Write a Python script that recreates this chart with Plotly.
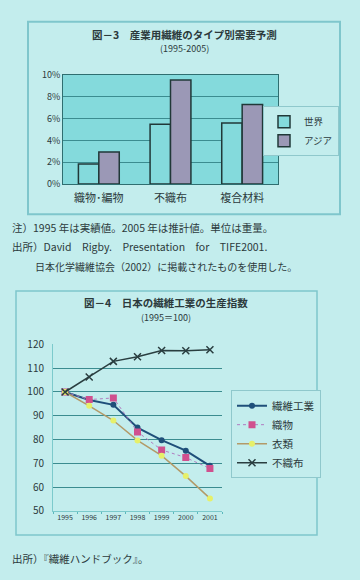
import plotly.graph_objects as go

W, H = 360, 580
def px(x): return x / W
def py(y): return 1 - y / H

# ---- Data: Fig.3 ----
fig3_categories = ["織物･編物", "不織布", "複合材料"]
fig3_world = [1.85, 5.5, 5.6]
fig3_asia = [2.95, 9.55, 7.3]
fig3_yticks = [0, 2, 4, 6, 8, 10]
fig3_ytick_text = ["0%", "2%", "4%", "6%", "8%", "10%"]

# ---- Data: Fig.4 ----
fig4_years = ["1995", "1996", "1997", "1998", "1999", "2000", "2001"]
fig4_textile_industry = [100, 96.6, 94.6, 85.0, 79.7, 75.3, 68.9]
fig4_fabric = [100, 96.8, 97.5, 83.2, 75.6, 72.4, 67.8]
fig4_apparel = [100, 94.2, 88.0, 79.6, 73.2, 64.6, 55.2]
fig4_nonwoven = [100, 106.3, 112.9, 114.8, 117.5, 117.4, 117.8]
fig4_ytick_labels = [50, 60, 70, 80, 90, 100, 110, 120]
fig4_grid_values = [60, 70, 80, 90, 100, 110]

BG = "#c3eded"
PLOT1 = "#84dadc"
TXT = "#2c3a3c"
GRID = "#3b8c90"
FONT = "Noto Sans CJK JP"

fig = go.Figure()

fig.add_trace(go.Bar(x=fig3_categories, y=fig3_world, name="世界",
                     marker=dict(color=PLOT1, line=dict(color="#203838", width=1.5)),
                     xaxis="x", yaxis="y", legend="legend"))
fig.add_trace(go.Bar(x=fig3_categories, y=fig3_asia, name="アジア",
                     marker=dict(color="#9b98b6", line=dict(color="#203838", width=1.5)),
                     xaxis="x", yaxis="y", legend="legend"))

fig.add_trace(go.Scatter(x=fig4_years, y=fig4_textile_industry, name="繊維工業",
                         mode="lines+markers",
                         line=dict(color="#1f4f7a", width=2),
                         marker=dict(symbol="circle", size=6, color="#1f4f7a"),
                         xaxis="x2", yaxis="y2", legend="legend2"))
fig.add_trace(go.Scatter(x=fig4_years, y=fig4_fabric, name="織物",
                         mode="lines+markers",
                         line=dict(color="#b07cc0", width=1, dash="dot"),
                         marker=dict(symbol="square", size=7, color="#d0508e"),
                         xaxis="x2", yaxis="y2", legend="legend2"))
fig.add_trace(go.Scatter(x=fig4_years, y=fig4_apparel, name="衣類",
                         mode="lines+markers",
                         line=dict(color="#b39a68", width=1.5),
                         marker=dict(symbol="circle", size=6, color="#e6f06a"),
                         xaxis="x2", yaxis="y2", legend="legend2"))
fig.add_trace(go.Scatter(x=fig4_years, y=fig4_nonwoven, name="不織布",
                         mode="lines+markers",
                         line=dict(color="#2a3e40", width=1.5),
                         marker=dict(symbol="x-thin", size=7, color="#2a3e40",
                                     line=dict(color="#2a3e40", width=1.5)),
                         xaxis="x2", yaxis="y2", legend="legend2"))
# invisible trace to carry tick labels on overlay axis
fig.add_trace(go.Scatter(x=[fig4_years[0]], y=[fig4_ytick_labels[0]], mode="markers",
                         marker=dict(opacity=0), showlegend=False, hoverinfo="skip",
                         xaxis="x2", yaxis="y3"))

fig.update_layout(
    width=W, height=H,
    margin=dict(l=0, r=0, t=0, b=0),
    paper_bgcolor=BG, plot_bgcolor=BG,
    font=dict(family=FONT, color=TXT, size=10),
    barmode="group", bargap=0.43, bargroupgap=0,
    xaxis=dict(domain=[px(63), px(278)], anchor="y",
               showline=True, linecolor="#2f6e70", linewidth=1, mirror=True,
               ticks="", ticklabelstandoff=4,
               tickfont=dict(size=11, color=TXT), fixedrange=True),
    yaxis=dict(domain=[py(180), py(68)], anchor="x", range=[0, 10],
               tickvals=fig3_yticks, ticktext=fig3_ytick_text,
               showgrid=True, gridcolor=GRID, gridwidth=1,
               showline=True, linecolor="#2f6e70", mirror=True,
               tickfont=dict(size=9, color=TXT), zeroline=False),
    xaxis2=dict(domain=[px(53), px(222)], anchor="y2", type="category",
                range=[-0.5, 6.5], showline=True, linecolor="#7ccacc", linewidth=1,
                ticks="outside", ticklen=2, tickcolor="#5ab8bc", tickson="boundaries",
                tickangle=0, tickfont=dict(size=7, color=TXT), showgrid=False),
    yaxis2=dict(domain=[py(516), py(345)], anchor="x2", range=[50, 120],
                tickvals=fig4_grid_values, showticklabels=False,
                showgrid=True, gridcolor=GRID, gridwidth=1, zeroline=False,
                showline=True, linecolor="#7ccacc"),
    yaxis3=dict(overlaying="y2", anchor="x2", range=[50, 120], side="left",
                tickvals=fig4_ytick_labels, showgrid=False, zeroline=False,
                ticks="", ticklabelstandoff=8, tickfont=dict(size=10, color=TXT)),
    legend=dict(x=px(339), y=py(100), xanchor="right", yanchor="top",
                bgcolor=BG, bordercolor="#8fc8cc", borderwidth=1,
                font=dict(size=9.5, color=TXT), itemwidth=30, tracegroupgap=0),
    legend2=dict(x=px(231), y=py(392), xanchor="left", yanchor="top",
                 bgcolor=BG, bordercolor="#8fc8cc", borderwidth=1,
                 font=dict(size=10.5, color=TXT), itemwidth=30, tracegroupgap=0),
    shapes=[
        dict(type="rect", xref="x domain", yref="y domain", x0=0, x1=1, y0=0, y1=1,
             layer="below", fillcolor=PLOT1, line=dict(width=0)),
        dict(type="rect", xref="paper", yref="paper", x0=px(28), x1=px(340),
             y0=py(211), y1=py(13), line=dict(color="#7fc6cc", width=2)),
        dict(type="rect", xref="paper", yref="paper", x0=px(16), x1=px(317),
             y0=py(541), y1=py(290), line=dict(color="#7fc6cc", width=1.5)),
    ],
)

ann = [
    dict(text="<b>図－3　産業用繊維のタイプ別需要予測</b>", x=px(184), y=py(26), size=10.5),
    dict(text="(1995-2005)", x=px(184), y=py(41), size=9),
    dict(text="<b>図－4　日本の繊維工業の生産指数</b>", x=px(166), y=py(302), size=10.5),
    dict(text="(1995＝100)", x=px(166), y=py(317), size=9),
]
for a in ann:
    fig.add_annotation(text=a["text"], x=a["x"], y=a["y"], xref="paper", yref="paper",
                       showarrow=False, xanchor="center", yanchor="middle",
                       font=dict(size=a["size"], color=TXT, family=FONT))

notes = [
    ("注）1995 年は実績値。2005 年は推計値。単位は重量。", 10, 225, 10.5),
    ("出所）David　Rigby.　Presentation　for　TIFE2001.", 10, 244, 10.5),
    ("日本化学繊維協会（2002）に掲載されたものを使用した。", 33, 265, 10),
    ("出所）『繊維ハンドブック』。", 10, 565, 10.5),
]
for t, x, y, s in notes:
    fig.add_annotation(text=t, x=px(x), y=py(y), xref="paper", yref="paper",
                       showarrow=False, xanchor="left", yanchor="middle",
                       font=dict(size=s, color=TXT, family=FONT))

fig.write_html("out.html")
